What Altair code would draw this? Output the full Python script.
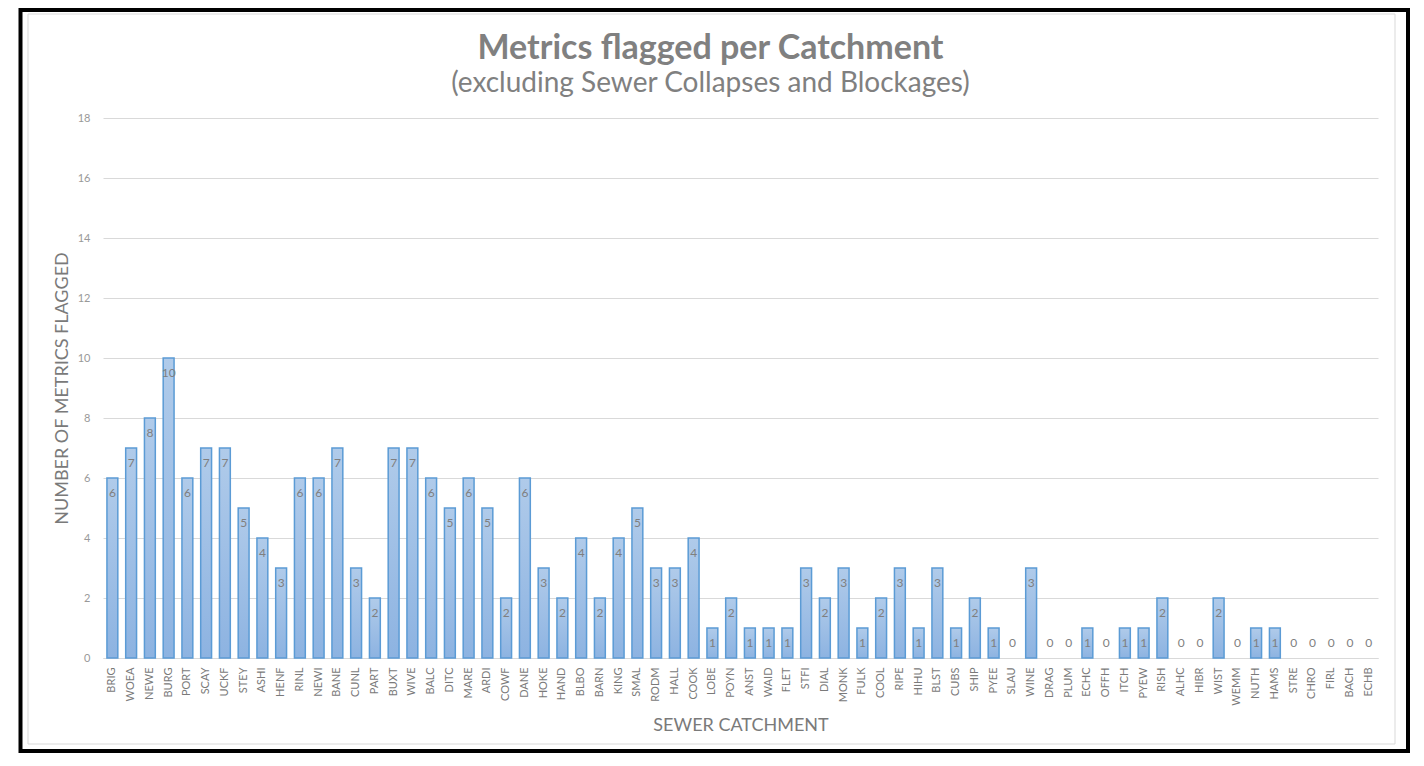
import altair as alt
import pandas as pd

catchments = ["BRIG", "WOEA", "NEWE", "BURG", "PORT", "SCAY", "UCKF", "STEY", "ASHI", "HENF",
              "RINL", "NEWI", "BANE", "CUNL", "PART", "BUXT", "WIVE", "BALC", "DITC", "MARE",
              "ARDI", "COWF", "DANE", "HOKE", "HAND", "BLBO", "BARN", "KING", "SMAL", "RODM",
              "HALL", "COOK", "LOBE", "POYN", "ANST", "WAID", "FLET", "STFI", "DIAL", "MONK",
              "FULK", "COOL", "RIPE", "HIHU", "BLST", "CUBS", "SHIP", "PYEE", "SLAU", "WINE",
              "DRAG", "PLUM", "ECHC", "OFFH", "ITCH", "PYEW", "RISH", "ALHC", "HIBR", "WIST",
              "WEMM", "NUTH", "HAMS", "STRE", "CHRO", "FIRL", "BACH", "ECHB"]
flagged = [6, 7, 8, 10, 6, 7, 7, 5, 4, 3,
           6, 6, 7, 3, 2, 7, 7, 6, 5, 6,
           5, 2, 6, 3, 2, 4, 2, 4, 5, 3,
           3, 4, 1, 2, 1, 1, 1, 3, 2, 3,
           1, 2, 3, 1, 3, 1, 2, 1, 0, 3,
           0, 0, 1, 0, 1, 1, 2, 0, 0, 2,
           0, 1, 1, 0, 0, 0, 0, 0]
y_ticks = list(range(0, 19, 2))

df = pd.DataFrame({"catchment": catchments, "flagged": flagged})

W, H = 1275, 540
FONT = "Lato"

x_scale = alt.Scale(domain=catchments, paddingInner=0.42, paddingOuter=0.21)
x_enc = alt.X(
    "catchment:N", sort=catchments, scale=x_scale,
    axis=alt.Axis(title="SEWER CATCHMENT", labelAngle=270, labelFont=FONT, labelFontSize=11,
                  labelColor="#7a7a7a", labelPadding=9, ticks=False, domainColor="#d9d9d9",
                  domainWidth=1, grid=False, labelOverlap=False,
                  titleFont=FONT, titleFontSize=18, titleFontWeight="normal", titleColor="#7a7a7a",
                  titleY=67, titleBaseline="middle"),
)
y_enc = alt.Y(
    "flagged:Q", scale=alt.Scale(domain=[0, 18]),
    axis=alt.Axis(values=y_ticks, title="NUMBER OF METRICS FLAGGED", grid=True, gridColor="#d9d9d9",
                  domain=False, ticks=False, labelPadding=13, labelColor="#999999", labelFont=FONT,
                  labelFontSize=11, titleFont=FONT, titleFontSize=18, titleFontWeight="normal",
                  titleColor="#7a7a7a", titleX=-41, titleY=270, titleAngle=270,
                  titleBaseline="middle", titleAlign="center"),
)

grad = alt.Gradient(gradient="linear",
                    stops=[alt.GradientStop(color="#b0cbea", offset=0),
                           alt.GradientStop(color="#8db3e1", offset=1)],
                    x1=0, x2=0, y1=0, y2=1)

bars = alt.Chart().transform_filter("datum.flagged > 0").mark_bar(
    fill=grad, stroke="#5b9bd5", strokeWidth=1.5).encode(x=x_enc, y=y_enc)

labels_pos = alt.Chart().transform_filter("datum.flagged > 0").mark_text(
    dy=15, baseline="middle", font=FONT, fontSize=12, color="#7f7f7f"
).encode(x=alt.X("catchment:N", sort=catchments, scale=x_scale), y="flagged:Q", text="flagged:Q")

labels_zero = alt.Chart().transform_filter("datum.flagged == 0").mark_text(
    dy=-15, baseline="middle", font=FONT, fontSize=12, color="#7f7f7f"
).encode(x=alt.X("catchment:N", sort=catchments, scale=x_scale), y="flagged:Q", text="flagged:Q")

one = alt.Data(values=[{"f": 1}])
frame_black = alt.Chart(one).mark_rect(fill="transparent", stroke="#000000", strokeWidth=4).encode(
    x=alt.value(-82.5), x2=alt.value(1305), y=alt.value(-108), y2=alt.value(633))
frame_gray = alt.Chart(one).mark_rect(fill="transparent", stroke="#d9d9d9", strokeWidth=1).encode(
    x=alt.value(-75), x2=alt.value(1292), y=alt.value(-104), y2=alt.value(626))

chart = alt.layer(frame_black, frame_gray, bars, labels_pos, labels_zero, data=df).properties(
    width=W, height=H,
    title=alt.TitleParams(text="Metrics flagged per Catchment",
                          subtitle="(excluding Sewer Collapses and Blockages)",
                          font=FONT, fontSize=34, fontWeight="bold", color="#808080",
                          subtitleFont=FONT, subtitleFontSize=28, subtitleColor="#808080",
                          subtitlePadding=4, anchor="middle", dx=-30, dy=90, offset=0),
    padding={"left": 95, "top": 110, "right": 33, "bottom": 95},
    autosize=alt.AutoSizeParams(type="none"),
    background="white",
).configure_view(strokeOpacity=0)

chart.save("out.html", embed_options={"renderer": "svg", "actions": False})
